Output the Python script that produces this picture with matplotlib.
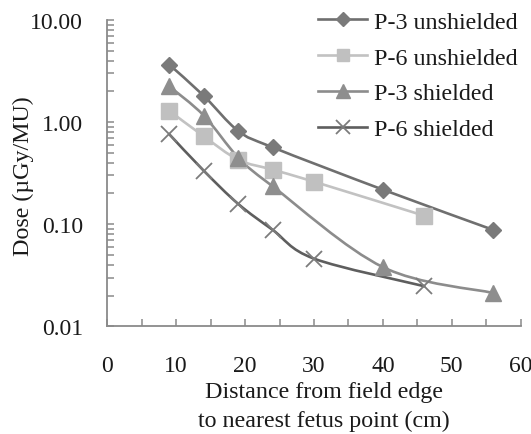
import numpy as np
import matplotlib
matplotlib.use("Agg")
import matplotlib.pyplot as plt
from matplotlib.path import Path
from matplotlib.patches import PathPatch
from matplotlib.lines import Line2D
from matplotlib.ticker import FixedLocator, LogLocator, FuncFormatter, NullFormatter

# Dose measurements (µGy/MU) versus distance from field edge (cm)
p3_unshielded_x = [9, 14, 19, 24, 40, 56]
p3_unshielded_y = [3.65, 1.81, 0.82, 0.566, 0.218, 0.088]

p6_unshielded_x = [9, 14, 19, 24, 30, 46]
p6_unshielded_y = [1.29, 0.726, 0.428, 0.342, 0.261, 0.121]

p3_shielded_x = [9, 14, 19, 24, 40, 56]
p3_shielded_y = [2.24, 1.16, 0.45, 0.235, 0.038, 0.0212]

p6_shielded_x = [9, 14, 19, 24, 30, 46]
p6_shielded_y = [0.76, 0.334, 0.158, 0.088, 0.046, 0.0247]

series_labels = ["P-3 unshielded", "P-6 unshielded", "P-3 shielded", "P-6 shielded"]
x_ticks = [0, 10, 20, 30, 40, 50, 60]
y_ticks = [0.01, 0.1, 1, 10]

plt.rcParams["font.family"] = ["Liberation Serif", "DejaVu Serif"]
TXT = "#1a1a1a"
AX = "#8a8a8a"
FS = 17.3

fig = plt.figure(figsize=(5.31, 4.35), dpi=100)
W, H = 531, 435
ax = fig.add_axes([107.3 / W, 1 - 327.3 / H, (520.7 - 107.3) / W, (327.3 - 21) / H])
ax.set_yscale("log")
ax.set_xlim(0, 60)
ax.set_ylim(0.01, 10)


def smooth_path(xs, ys):
    """Smoothed (cardinal Bezier) path through the points, built in (x, log y)."""
    lx = np.asarray(xs, float)
    ly = np.log10(np.asarray(ys, float))
    n = len(lx)
    verts = [(lx[0], ly[0])]
    codes = [Path.MOVETO]
    for i in range(n - 1):
        i0 = max(i - 1, 0)
        i3 = min(i + 2, n - 1)
        c1 = (lx[i] + (lx[i + 1] - lx[i0]) / 6, ly[i] + (ly[i + 1] - ly[i0]) / 6)
        c2 = (lx[i + 1] - (lx[i3] - lx[i]) / 6, ly[i + 1] - (ly[i3] - ly[i]) / 6)
        verts += [c1, c2, (lx[i + 1], ly[i + 1])]
        codes += [Path.CURVE4] * 3
    verts = [(vx, 10 ** vy) for vx, vy in verts]
    return Path(verts, codes)


styles = [
    dict(line="#6f6f6f", marker="D", ms=8.0, mfc="#7a7a7a", mec="#7a7a7a", mew=1.0),
    dict(line="#c2c2c2", marker="s", ms=11.0, mfc="#c0c0c0", mec="#c0c0c0", mew=1.0),
    dict(line="#8c8c8c", marker="^", ms=11.5, mfc="#8e8e8e", mec="#8e8e8e", mew=1.0),
    dict(line="#5e5e5e", marker="x", ms=12.0, mfc="none", mec="#7c7c7c", mew=1.3),
]
data = [
    (p3_unshielded_x, p3_unshielded_y),
    (p6_unshielded_x, p6_unshielded_y),
    (p3_shielded_x, p3_shielded_y),
    (p6_shielded_x, p6_shielded_y),
]

handles = []
for (xs, ys), st, lab in zip(data, styles, series_labels):
    patch = PathPatch(smooth_path(xs, ys), facecolor="none", edgecolor=st["line"],
                      lw=1.9, capstyle="round", joinstyle="round", zorder=2)
    ax.add_patch(patch)
    ax.plot(xs, ys, linestyle="none", marker=st["marker"], markersize=st["ms"],
            markerfacecolor=st["mfc"], markeredgecolor=st["mec"],
            markeredgewidth=st["mew"], zorder=3)
    handles.append(Line2D([], [], color=st["line"], lw=1.9, marker=st["marker"],
                          markersize=st["ms"] * 0.85, markerfacecolor=st["mfc"],
                          markeredgecolor=st["mec"], markeredgewidth=st["mew"]))

# axes styling
for side in ("top", "right"):
    ax.spines[side].set_visible(False)
for side in ("left", "bottom"):
    ax.spines[side].set_color(AX)
    ax.spines[side].set_linewidth(1.3)

ax.xaxis.set_major_locator(FixedLocator(x_ticks))
ax.xaxis.set_minor_locator(FixedLocator([5, 15, 25, 35, 45, 55]))
ax.yaxis.set_major_locator(FixedLocator(y_ticks))
ax.yaxis.set_minor_locator(LogLocator(base=10, subs=np.arange(2, 10)))
ax.yaxis.set_minor_formatter(NullFormatter())
ax.yaxis.set_major_formatter(FuncFormatter(lambda v, p: f"{v:.2f}"))

ax.tick_params(axis="both", which="both", direction="in", color=AX, width=1.1,
               labelcolor=TXT, labelsize=17)
ax.tick_params(axis="both", which="major", length=5)
ax.tick_params(axis="both", which="minor", length=5)
ax.tick_params(axis="x", which="major", pad=21)
ax.tick_params(axis="y", which="major", pad=17.5)

fig.text(23 / W, 1 - 176 / H, "Dose (µGy/MU)", rotation=90, ha="center", va="center",
         fontsize=FS, color=TXT)
fig.text(324 / W, 1 - 393 / H, "Distance from field edge", ha="center", va="center",
         fontsize=FS, color=TXT)
fig.text(324 / W, 1 - 421 / H, "to nearest fetus point (cm)", ha="center", va="center",
         fontsize=FS, color=TXT)

fig.legend(handles, series_labels, loc="upper left",
           bbox_to_anchor=(318 / W, 1 - 12 / H), frameon=False, fontsize=FS,
           handlelength=2.05, handletextpad=0.27, labelspacing=0.58,
           borderpad=0, borderaxespad=0, labelcolor=TXT)

fig.savefig("out.png", dpi=100, facecolor="white")
